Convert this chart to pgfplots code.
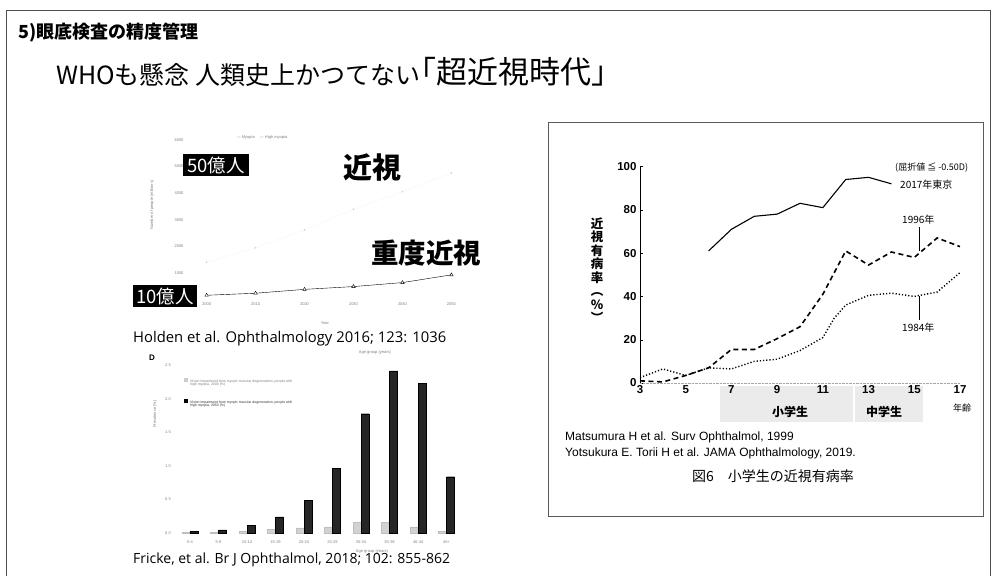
\documentclass[border=0pt]{standalone}
\usepackage{pgfplots}
\pgfplotsset{compat=1.18}
\usepackage{fontspec}
\setmainfont{Liberation Sans}
\newfontfamily\jp{Noto Sans CJK JP}
\newfontfamily\os{Open Sans}
\newcommand{\fs}[1]{\fontsize{#1}{#1}\selectfont}
\begin{document}
\begin{tikzpicture}
\fill[white] (0pt,0pt) rectangle (992pt,-576pt);
\begin{scope}[x=1pt,y=-1pt]
\draw[black!70, line width=0.6pt] (6,576) -- (6,10) -- (990,10) -- (990,576);
\node[anchor=west, inner sep=0] at (18,33) {\jp\bfseries\fs{18}5)眼底検査の精度管理};
\node[anchor=west, inner sep=0] at (56,75) {\jp\fs{25}WHOも懸念 人類史上かつてない};
\node[anchor=west, inner sep=0] at (405,72) {\jp\fs{31}「超近視時代」};
\draw[black!65, line width=0.6pt] (548,122) rectangle (983,516);
\fill[gray!16] (720,386) rectangle (853,422);
\fill[gray!16] (855,386) rectangle (923,422);
\end{scope}

% ---------- right chart ----------
\begin{axis}[at={(640pt,-383pt)}, anchor=south west, scale only axis,
  width=320pt, height=216.5pt, xmin=3, xmax=17, ymin=0, ymax=100,
  axis lines*=left, axis line style={-}, x axis line style={densely dotted, gray!70},
  y axis line style={black, line width=0.7pt},
  xtick={3,5,...,17}, ytick={0,20,...,100},
  xtick style={draw=none}, ytick style={black, thin}, major tick length=3pt, tick align=inside,
  ticklabel style={font=\fs{11.5}\bfseries}, /pgf/number format/assume math mode=true,
  xticklabel style={yshift=1pt}, clip=false]
\addplot[black, line width=1.1pt] coordinates {(6,61)(7,71)(8,77)(9,78)(10,83)(11,81)(12,94)(13,95)(14,92)};
\addplot[black, line width=1.6pt, dash pattern=on 5pt off 3.5pt] coordinates {(3,1)(4,0.5)(5,3.5)(6,7)(7,15.5)(8,15.5)(9,20.5)(10,26)(11,41)(12,61)(13,54.5)(14,60.5)(15,58)(16,67)(17,63)};
\addplot[black, line width=1.4pt, dash pattern=on 1.2pt off 2pt] coordinates {(3,2.5)(4,6.5)(5,3.5)(6,7)(7,6.5)(8,10)(9,11)(10,15)(11,21)(11.5,30)(12,36)(13,40.5)(14,41.5)(15,40)(16,42)(17,51)};
\end{axis}

% ---------- Holden chart ----------
\begin{axis}[at={(187pt,-299.6pt)}, anchor=south west, scale only axis,
  width=284pt, height=159.6pt, xmin=1996, xmax=2054, ymin=0, ymax=6000,
  axis line style={draw=none}, tick style={draw=none},
  xtick={2000,2010,...,2050}, ytick={1000,2000,...,6000},
  ticklabel style={font=\fs{4}, text=gray}, /pgf/number format/assume math mode=true,
  /pgf/number format/1000 sep={}, scaled y ticks=false, clip=false]
\addplot[gray!7, thin, mark=*, mark size=0.6pt, mark options={gray!35}] coordinates {(2000,1406)(2010,1950)(2020,2620)(2030,3400)(2040,4060)(2050,4758)};
\addplot[black, thin, mark=triangle*, mark size=2pt, mark options={fill=white}] coordinates {(2000,163)(2010,240)(2020,385)(2030,490)(2040,640)(2050,930)};
\end{axis}

% ---------- Fricke chart ----------
\begin{axis}[at={(174.3pt,-533pt)}, anchor=south west, scale only axis,
  width=288pt, height=167.5pt, xmin=-0.55, xmax=9.55, ymin=0, ymax=2.5,
  ybar=0pt, bar width=8pt,
  axis line style={draw=none}, tick style={draw=none},
  xtick={0,...,9}, xticklabels={0-4,5-9,10-14,15-19,20-24,25-29,30-34,35-39,40-44,45+},
  ytick={0,0.5,...,2.5},
  yticklabel style={/pgf/number format/fixed, /pgf/number format/fixed zerofill, /pgf/number format/precision=1},
  ticklabel style={font=\fs{4}, text=gray}, /pgf/number format/assume math mode=true, clip=false]
\addplot[fill=gray!35, draw=gray!50] coordinates {(0,0.01)(1,0.01)(2,0.02)(3,0.05)(4,0.075)(5,0.09)(6,0.16)(7,0.16)(8,0.09)(9,0.03)};
\addplot[fill=black!85, draw=black] coordinates {(0,0.02)(1,0.045)(2,0.11)(3,0.24)(4,0.49)(5,0.97)(6,1.78)(7,2.42)(8,2.23)(9,0.84)};
\end{axis}

\begin{scope}[x=1pt,y=-1pt]
% Holden annotations
\node[gray, font=\fs{4}] at (262,137) {--- Myopia \quad --- High myopia};
\node[gray, font=\fs{4}, rotate=90] at (152,205) {Number of people (millions)};
\node[gray, font=\fs{4}] at (325,323) {Year};
\node[fill=black, text=white, inner xsep=4pt, inner ysep=2.5pt, font=\jp\fs{18.5}] at (216,165) {50億人};
\node[fill=black, text=white, inner xsep=3pt, inner ysep=2.5pt, font=\jp\fs{18.5}] at (165,296) {10億人};
\node[font=\jp\bfseries\fs{29}] at (372,168) {近視};
\node[font=\jp\bfseries\fs{27.5}] at (426,253) {重度近視};
\node[anchor=west, inner sep=0, font=\os\fs{14.8}] at (133,339) {Holden et al. Ophthalmology 2016; 123: 1036};
% Fricke annotations
\node[font=\bfseries\fs{8}] at (152,358) {D};
\node[gray, font=\fs{4}] at (375,352) {Age group (years)};
\node[gray, font=\fs{4}, rotate=90] at (155,414) {Prevalence (\%)};
\node[gray, font=\fs{4}] at (372,551) {Age group (years)};
\fill[gray!40] (184,378) rectangle (188,382);
\node[anchor=west, gray, font=\fs{3.5}, align=left, inner sep=0] at (190,383) {Vision impairment from myopic macular degeneration, people with\\ high myopia, 2000 (\%)};
\fill[black] (184,399) rectangle (188,403);
\node[anchor=west, black!80, font=\fs{3.5}, align=left, inner sep=0] at (190,404) {Vision impairment from myopic macular degeneration, people with\\ high myopia, 2050 (\%)};
\node[anchor=west, inner sep=0, font=\os\fs{14}] at (133,560) {Fricke, et al. Br J Ophthalmol, 2018; 102: 855-862};
% right chart annotations
\node[align=center, inner sep=0, font=\jp\bfseries\fontsize{12.5}{13.5}\selectfont] at (597,270) {近\\視\\有\\病\\率\\︵\\％\\︶};
\node[anchor=west, inner sep=0, font=\jp\fs{9}] at (895,168) {(屈折値 ≦ -0.50D)};
\node[anchor=west, inner sep=0, font=\jp\fs{10}] at (900,185) {2017年東京};
\node[anchor=west, inner sep=0, font=\jp\fs{10}] at (902,220) {1996年};
\node[anchor=west, inner sep=0, font=\jp\fs{10}] at (902,328) {1984年};
\draw[black, line width=0.7pt] (919,227) -- (919,251);
\draw[black, line width=0.7pt] (919,296) -- (919,320);
\node[font=\jp\bfseries\fs{12}] at (790,412) {小学生};
\node[font=\jp\bfseries\fs{12}] at (884,412) {中学生};
\node[font=\jp\fs{9}] at (962,408) {年齢};
\node[anchor=west, inner sep=0, font=\fs{12}] at (565,437) {Matsumura H et al. Surv Ophthalmol, 1999};
\node[anchor=west, inner sep=0, font=\fs{12}] at (565,453) {Yotsukura E. Torii H et al. JAMA Ophthalmology, 2019.};
\node[inner sep=0, font=\jp\fs{14}] at (773,476) {図6\quad 小学生の近視有病率};
\end{scope}
\pgfresetboundingbox
\path[use as bounding box] (0pt,0pt) rectangle (992pt,-576pt);
\end{tikzpicture}
\end{document}
